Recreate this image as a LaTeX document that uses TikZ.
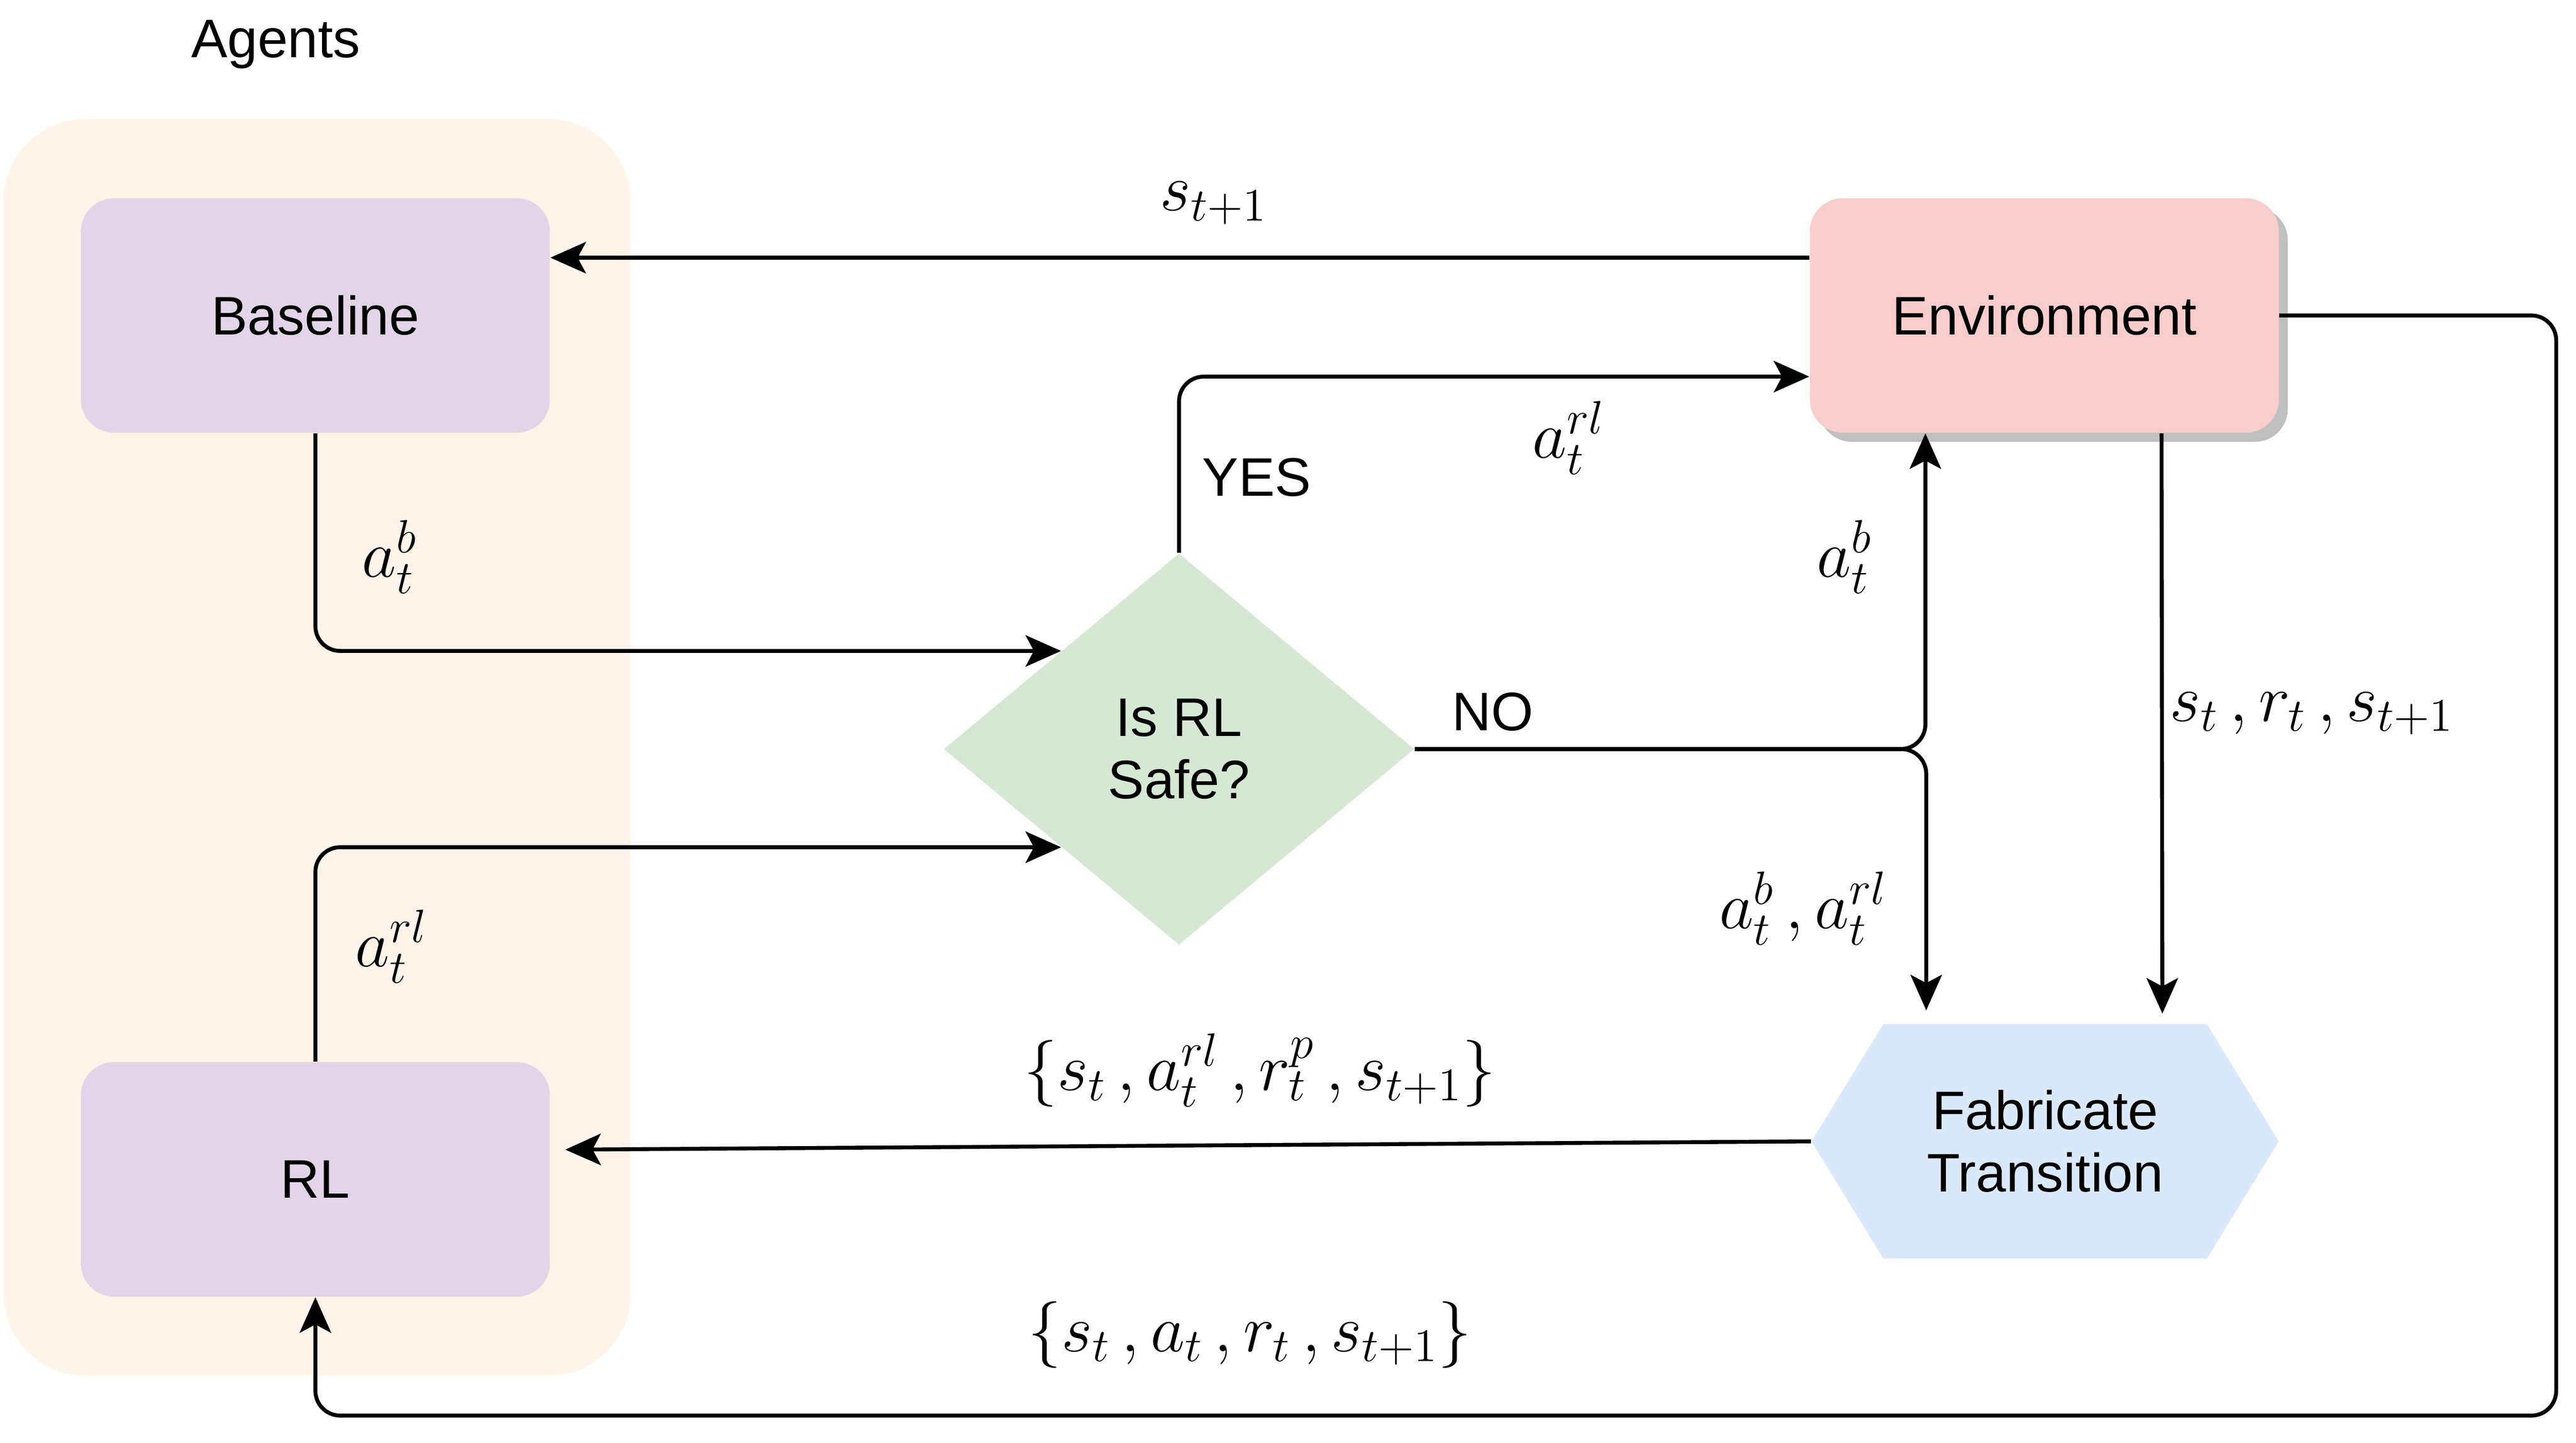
\documentclass[tikz,border=0pt]{standalone}
\usepackage{fix-cm}
\usepackage{fontspec}
\newfontfamily\drawfont{Liberation Sans}
\usetikzlibrary{arrows.meta}
\usetikzlibrary{shapes.geometric}
\usetikzlibrary{shadows}
\usetikzlibrary{calc}
\definecolor{agentbg}{RGB}{255,244,233}
\definecolor{agentfill}{RGB}{225,213,231}
\definecolor{envfill}{RGB}{248,206,204}
\definecolor{fabfill}{RGB}{218,232,252}
\definecolor{safefill}{RGB}{213,232,212}

\begin{document}
\begin{tikzpicture}[x=0.02cm,y=-0.02cm,
    every node/.style={font=\drawfont\fontsize{18.7}{21.5}\selectfont},
    box/.style={rounded corners=0.4cm, minimum width=5.68cm, minimum height=2.84cm,
                inner sep=0pt, align=center},
    flow/.style={line width=1.35pt, rounded corners=0.3cm,
                 -{Stealth[length=0.43cm,width=0.38cm,inset=0.1cm]}},
    lbl/.style={inner sep=0pt, font=\fontsize{23}{27}\selectfont}]
  \useasboundingbox (0,0) rectangle (1560,873.5);
  % agents group
  \node[fill=agentbg, rounded corners=1cm, minimum width=7.6cm,
        minimum height=15.22cm] (agents) at (192,452.5) {};
  \node (agentsname) at (167,27) {Agents};
  \node[box, fill=agentfill] (base) at (191,191) {Baseline};
  \node[box, fill=agentfill] (rl) at (191,714) {RL};
  % environment side
  \node[box, fill=envfill, drop shadow={shadow xshift=0.11cm,
        shadow yshift=-0.11cm, fill=black!25, opacity=1}] (env) at (1238,191) {Environment};
  \node[minimum width=5.66cm, minimum height=2.84cm, inner sep=0pt, align=center,
        path picture={\fill[fabfill] (path picture bounding box.west)
          -- ([xshift=0.87cm]path picture bounding box.north west)
          -- ([xshift=-0.87cm]path picture bounding box.north east)
          -- (path picture bounding box.east)
          -- ([xshift=-0.87cm]path picture bounding box.south east)
          -- ([xshift=0.87cm]path picture bounding box.south west) -- cycle;}]
        (fab) at (1238.5,691) {Fabricate\\Transition};
  \node[diamond, fill=safefill, minimum width=5.7cm, minimum height=4.74cm,
        inner sep=0pt, align=center] (safe) at (714,453.5) {Is RL\\Safe?};
  \coordinate (loop) at (1548,857);
  % connectors
  \draw[flow] ($(env.west)+(0,-35)$) -- ($(base.east)+(0,-35)$);
  \draw[flow] (base.south) |- (safe.north west);
  \draw[flow] (rl.north) |- (safe.south west);
  \draw[flow] (safe.north) |- ($(env.west)+(0,37)$);
  \draw[flow] (safe.east) -| ($(env.south)+(-72,0)$);
  \draw[flow] (safe.east) -| ($(fab.north)+(-72,-8)$);
  \draw[flow] ($(env.south)+(71,0)$) -- ($(fab.north)+(71,-6)$);
  \draw[flow] (fab.west) -- ($(rl.east)+(9,-18)$);
  \draw[flow] (env.east) -| (loop) -| (rl.south);
  % labels
  \node[lbl] (snext) at (735,123) {$s_{t+1}$};
  \node[lbl] (abase) at (236,337) {$a_t^b$};
  \node[lbl] (arl) at (237,573) {$a_t^{rl}$};
  \node (yes) at (761,289) {YES};
  \node[lbl] (arlyes) at (950,265) {$a_t^{rl}$};
  \node (no) at (904,431) {NO};
  \node[lbl] (abno) at (1117,337) {$a_t^b$};
  \node[lbl] (aboth) at (1092,550) {$a_t^b\,, a_t^{rl}$};
  \node[lbl] (srs) at (1400,432) {$s_t\,,r_t\,,s_{t+1}$};
  \node[lbl] (fabset) at (763,648) {$\{s_t\,,a_t^{rl}\,,r_t^p\,,s_{t+1}\}$};
  \node[lbl] (envset) at (757,808) {$\{s_t\,,a_t\,,r_t\,,s_{t+1}\}$};
\end{tikzpicture}
\end{document}
